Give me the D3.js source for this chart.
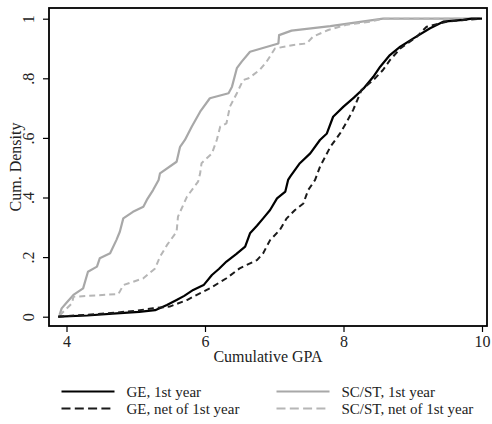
<!DOCTYPE html>
<html>
<head>
<meta charset="utf-8">
<script src="https://cdn.jsdelivr.net/npm/d3@7"></script>
<style>
  html, body { margin: 0; padding: 0; background: #fff; }
  svg text { font-family: "Liberation Serif", "Times New Roman", serif; fill: #222; }
</style>
</head>
<body>
<svg id="chart" width="492" height="424"></svg>
<script>
// Empirical cumulative distributions of cumulative GPA: [GPA, cumulative share]
const geFirstYear = [
  [3.88, 0], [4.30, 0.004], [4.72, 0.011], [5.05, 0.016], [5.28, 0.022], [5.45, 0.039],
  [5.59, 0.056], [5.70, 0.070], [5.83, 0.090], [5.98, 0.106], [6.10, 0.140],
  [6.20, 0.160], [6.31, 0.185], [6.45, 0.210], [6.58, 0.235], [6.65, 0.280],
  [6.75, 0.305], [6.84, 0.330], [6.94, 0.358], [7.04, 0.397], [7.16, 0.420],
  [7.20, 0.459], [7.23, 0.470], [7.37, 0.515], [7.52, 0.548], [7.66, 0.593],
  [7.76, 0.615], [7.85, 0.671], [8.00, 0.705], [8.15, 0.735], [8.29, 0.766],
  [8.43, 0.805], [8.53, 0.839], [8.67, 0.878], [8.82, 0.906], [9.01, 0.934],
  [9.25, 0.968], [9.44, 0.990], [9.73, 0.996], [9.85, 1.0], [10.0, 1.0]
];
const geNetFirstYear = [
  [3.88, 0], [4.58, 0.011], [5.00, 0.020], [5.25, 0.028], [5.49, 0.034],
  [5.74, 0.056], [5.83, 0.067], [6.07, 0.095], [6.31, 0.129], [6.50, 0.162],
  [6.75, 0.190], [6.84, 0.213], [6.94, 0.257], [7.08, 0.291], [7.18, 0.330],
  [7.30, 0.358], [7.42, 0.380], [7.49, 0.425], [7.59, 0.459], [7.66, 0.503],
  [7.81, 0.570], [7.95, 0.615], [8.05, 0.655], [8.14, 0.694], [8.26, 0.761],
  [8.43, 0.794], [8.57, 0.828], [8.67, 0.861], [8.82, 0.900], [9.06, 0.940],
  [9.20, 0.973], [9.49, 0.990], [9.75, 0.996], [9.97, 1.0]
];
const scFirstYear = [
  [3.90, 0.006], [3.93, 0.028], [4.00, 0.047], [4.10, 0.073], [4.24, 0.095],
  [4.31, 0.151], [4.44, 0.168], [4.48, 0.196], [4.63, 0.213], [4.72, 0.257],
  [4.77, 0.285], [4.82, 0.330], [4.96, 0.352], [5.11, 0.369], [5.16, 0.392],
  [5.25, 0.425], [5.33, 0.459], [5.35, 0.481], [5.59, 0.520], [5.64, 0.570],
  [5.71, 0.593], [5.81, 0.638], [5.93, 0.688], [6.07, 0.733], [6.34, 0.750],
  [6.39, 0.772], [6.46, 0.834], [6.53, 0.856], [6.65, 0.889], [7.06, 0.917],
  [7.07, 0.945], [7.25, 0.960], [7.81, 0.975], [8.57, 1.0], [9.97, 1.0]
];
const scNetFirstYear = [
  [3.90, 0.004], [4.08, 0.045], [4.10, 0.067], [4.75, 0.076], [4.82, 0.106],
  [5.11, 0.129], [5.28, 0.162], [5.35, 0.201], [5.45, 0.240], [5.59, 0.285],
  [5.61, 0.336], [5.74, 0.403], [5.90, 0.453], [5.93, 0.481], [5.95, 0.515],
  [6.10, 0.548], [6.17, 0.593], [6.22, 0.638], [6.31, 0.649], [6.36, 0.705],
  [6.46, 0.750], [6.55, 0.794], [6.63, 0.800], [6.79, 0.828], [6.89, 0.856],
  [7.01, 0.900], [7.28, 0.912], [7.47, 0.917], [7.56, 0.940], [7.78, 0.962],
  [8.05, 0.980], [8.38, 0.990], [8.57, 1.0], [9.97, 1.0]
];

const xTicks = [4, 6, 8, 10];
const yTicks = [0, 0.2, 0.4, 0.6, 0.8, 1];
const yTickLabels = ["0", ".2", ".4", ".6", ".8", "1"];

const seriesNames = ["GE, 1st year", "GE, net of 1st year", "SC/ST, 1st year", "SC/ST, net of 1st year"];
const seriesData = [geFirstYear, geNetFirstYear, scFirstYear, scNetFirstYear];

const styles = [
  { color: "#000000", dash: null, width: 2.2 },
  { color: "#1a1a1a", dash: "6,4", width: 2.0 },
  { color: "#a8a8a8", dash: null, width: 2.2 },
  { color: "#b6b6b6", dash: "6,4", width: 2.0 }
];

const svg = d3.select("#chart");
const frame = { left: 49, right: 487, top: 8, bottom: 326 };

const x = d3.scaleLinear().domain([4, 10]).range([66.5, 482]);
const y = d3.scaleLinear().domain([0, 1]).range([316.7, 18.7]);

// plot region border
svg.append("rect")
  .attr("x", frame.left).attr("y", frame.top)
  .attr("width", frame.right - frame.left).attr("height", frame.bottom - frame.top)
  .attr("fill", "none").attr("stroke", "#000").attr("stroke-width", 1.8);

// x axis
const xAxis = d3.axisBottom(x).tickValues(xTicks).tickSize(6).tickPadding(4).tickFormat(d3.format("d"));
const gx = svg.append("g").attr("transform", `translate(0,${frame.bottom})`).call(xAxis);
gx.select(".domain").remove();
gx.selectAll(".tick line").attr("stroke", "#000").attr("stroke-width", 1.2);
gx.selectAll(".tick text").attr("font-size", 16).attr("font-family", "Liberation Serif").attr("fill", "#222");

// y axis with vertical tick labels
const yAxis = d3.axisLeft(y).tickValues(yTicks).tickSize(6).tickFormat((d, i) => yTickLabels[i]);
const gy = svg.append("g").attr("transform", `translate(${frame.left},0)`).call(yAxis);
gy.select(".domain").remove();
gy.selectAll(".tick line").attr("stroke", "#000").attr("stroke-width", 1.2);
gy.selectAll(".tick text")
  .attr("font-size", 16).attr("font-family", "Liberation Serif").attr("fill", "#222")
  .attr("x", null).attr("dy", null)
  .attr("text-anchor", "middle")
  .attr("transform", "translate(-15,0) rotate(-90)");

// axis titles
svg.append("text")
  .attr("x", (frame.left + frame.right) / 2).attr("y", 362)
  .attr("text-anchor", "middle").attr("font-size", 16)
  .text("Cumulative GPA");
svg.append("text")
  .attr("transform", `translate(20.5,${(frame.top + frame.bottom) / 2}) rotate(-90)`)
  .attr("text-anchor", "middle").attr("font-size", 16)
  .text("Cum. Density");

// curves
const line = d3.line().x(d => x(d[0])).y(d => y(d[1]));
const drawOrder = [2, 3, 0, 1];
drawOrder.forEach(i => {
  svg.append("path")
    .datum(seriesData[i])
    .attr("d", line)
    .attr("fill", "none")
    .attr("stroke", styles[i].color)
    .attr("stroke-width", styles[i].width)
    .attr("stroke-dasharray", styles[i].dash)
    .attr("stroke-linejoin", "round");
});

// legend, two columns
const legendPos = [
  { lx: 61.5, ly: 391.5 }, { lx: 61.5, ly: 408.5 },
  { lx: 276.5, ly: 391.5 }, { lx: 276.5, ly: 408.5 }
];
seriesNames.forEach((name, i) => {
  const p = legendPos[i];
  const g = svg.append("g").attr("transform", `translate(${p.lx},${p.ly})`);
  g.append("line")
    .attr("x1", 0).attr("x2", 53).attr("y1", 0).attr("y2", 0)
    .attr("stroke", styles[i].color)
    .attr("stroke-width", styles[i].width)
    .attr("stroke-dasharray", styles[i].dash ? "9,4.3" : null);
  g.append("text")
    .attr("x", 65).attr("y", 5).attr("font-size", 15)
    .text(name);
});
</script>
</body>
</html>
